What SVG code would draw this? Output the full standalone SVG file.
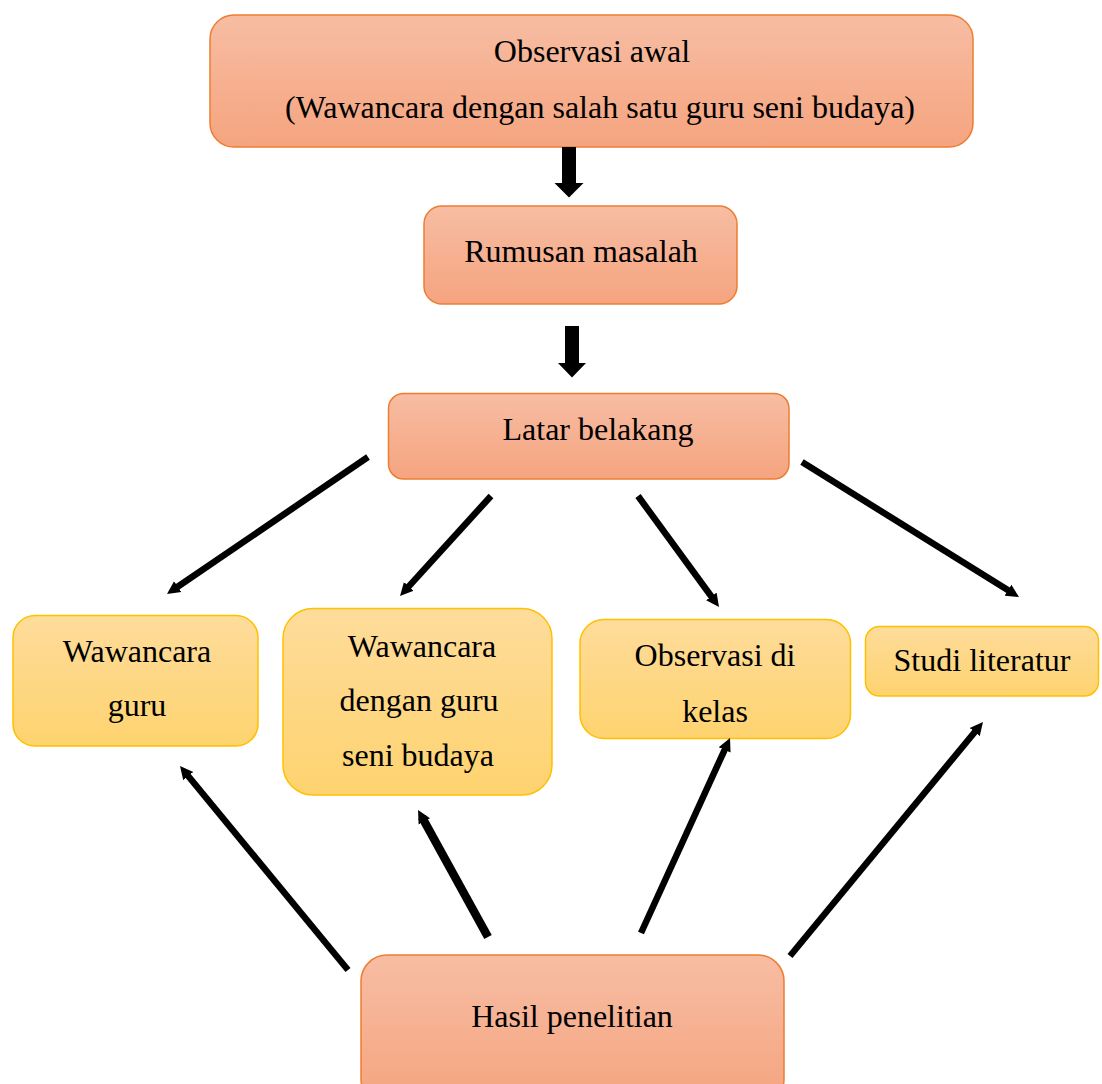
<svg xmlns="http://www.w3.org/2000/svg" width="1102" height="1084" viewBox="0 0 1102 1084">
<defs>
<linearGradient id="gOr" x1="0" y1="0" x2="0" y2="1">
<stop offset="0" stop-color="#F7BDA3"/>
<stop offset="1" stop-color="#F5A47F"/>
</linearGradient>
<linearGradient id="gYe" x1="0" y1="0" x2="0" y2="1">
<stop offset="0" stop-color="#FEDC9B"/>
<stop offset="1" stop-color="#FED36F"/>
</linearGradient>
<marker id="ah" markerUnits="userSpaceOnUse" markerWidth="14" markerHeight="14" refX="5" refY="7" orient="auto" viewBox="0 0 14 14">
<path d="M0,0.5 L13,7 L0,13.5 z" fill="#000"/>
</marker>
<style>
.or{fill:url(#gOr);stroke:#ED7D31;stroke-width:1.5}
.ye{fill:url(#gYe);stroke:#FFC000;stroke-width:1.5}
text{font-family:"Liberation Serif","Times New Roman",serif;font-size:32px;fill:#000;text-anchor:middle}
.ln{stroke:#000;stroke-width:6.5;fill:none;marker-end:url(#ah)}
.lnb{stroke:#000;stroke-width:8.5;fill:none;marker-end:url(#ah)}
</style>
</defs>
<rect width="1102" height="1084" fill="#fff"/>
<g id="node-observasi-awal">
<rect class="or" x="210" y="15" width="763" height="132" rx="24"/>
<text x="592" y="62">Observasi awal</text>
<text x="600" y="118">(Wawancara dengan salah satu guru seni budaya)</text>
</g>
<g id="node-rumusan">
<rect class="or" x="424" y="206" width="313" height="98" rx="18"/>
<text x="581" y="262">Rumusan masalah</text>
</g>
<g id="node-latar">
<rect class="or" x="388.5" y="393.5" width="400.5" height="85.5" rx="15"/>
<text x="598" y="440">Latar belakang</text>
</g>
<g id="node-wawancara-guru">
<rect class="ye" x="13" y="615.5" width="245" height="130.5" rx="22"/>
<text x="137" y="662">Wawancara</text>
<text x="137" y="716">guru</text>
</g>
<g id="node-wawancara-seni">
<rect class="ye" x="283" y="608.5" width="269" height="186.5" rx="30"/>
<text x="422" y="657">Wawancara</text>
<text x="419" y="711">dengan guru</text>
<text x="418" y="766">seni budaya</text>
</g>
<g id="node-observasi-kelas">
<rect class="ye" x="580" y="619.5" width="270.5" height="119" rx="24"/>
<text x="715" y="666">Observasi di</text>
<text x="715" y="722">kelas</text>
</g>
<g id="node-studi">
<rect class="ye" x="865.5" y="626.5" width="233" height="69.5" rx="14"/>
<text x="982" y="671">Studi literatur</text>
</g>
<g id="node-hasil">
<rect class="or" x="361" y="955" width="423" height="150" rx="26"/>
<text x="572" y="1027">Hasil penelitian</text>
</g>
<g id="connectors">
<polygon points="562,147 576,147 576,183 583.5,183 569,197.5 554.5,183 562,183" fill="#000"/>
<polygon points="565,326 579,326 579,363 586,363 572,377.5 558,363 565,363" fill="#000"/>
<line class="ln" x1="368" y1="457" x2="173.6" y2="589.5"/>
<line class="ln" x1="491" y1="496" x2="405.4" y2="590.1"/>
<line class="ln" x1="638" y1="496" x2="714.3" y2="600.5"/>
<line class="ln" x1="802" y1="462" x2="1012.2" y2="592.8"/>
<line class="ln" x1="348" y1="970" x2="185.1" y2="772.2"/>
<line class="lnb" x1="488" y1="937" x2="421.9" y2="817"/>
<line class="ln" x1="641" y1="933" x2="726.7" y2="745.3"/>
<line class="ln" x1="790" y1="956" x2="977.9" y2="728.2"/>
</g>
</svg>
